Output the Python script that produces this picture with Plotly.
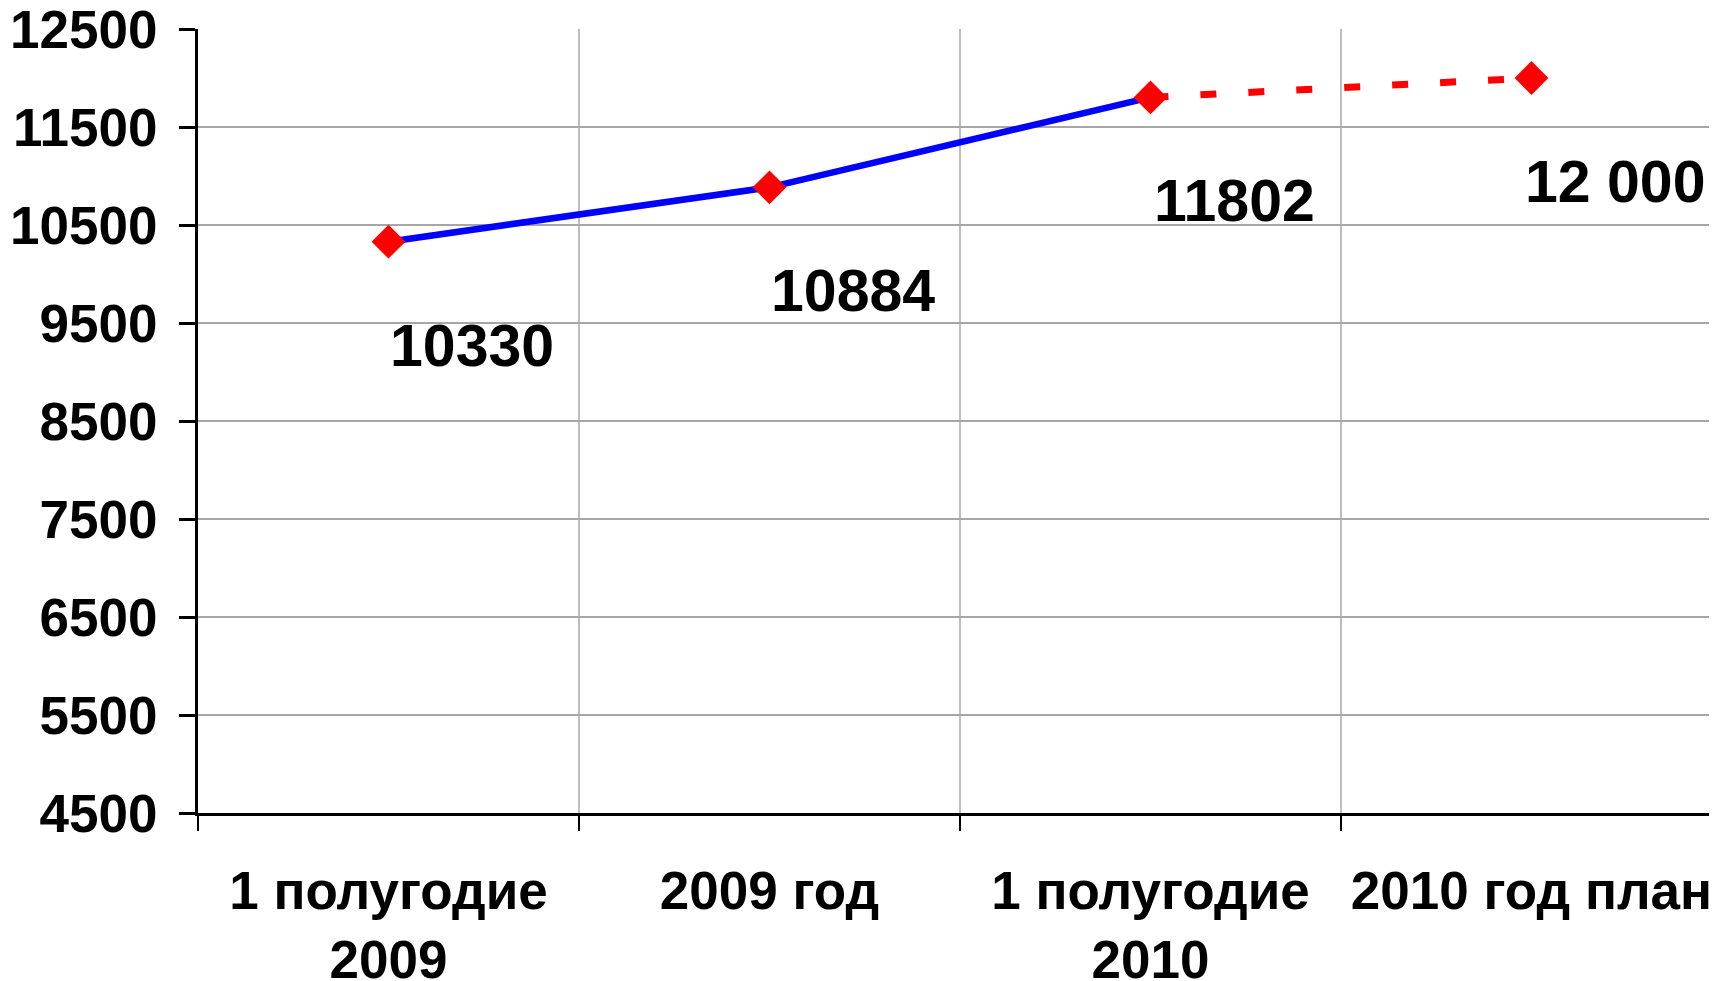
import plotly.graph_objects as go

categories = ["1 полугодие<br>2009", "2009 год", "1 полугодие<br>2010", "2010 год план"]
values = [10330, 10884, 11802, 12000]
value_labels = ["10330", "10884", "11802", "12 000"]
actual_count = 3  # first three points are actual, last is plan
y_ticks = [4500, 5500, 6500, 7500, 8500, 9500, 10500, 11500, 12500]

FONT = "Liberation Sans, Arial, sans-serif"

fig = go.Figure()

# actual (solid blue)
fig.add_trace(go.Scatter(
    x=categories[:actual_count], y=values[:actual_count],
    mode="lines", line=dict(color="#0000FF", width=6.5),
    showlegend=False, hoverinfo="skip"))

# plan (dashed red)
fig.add_trace(go.Scatter(
    x=categories[actual_count - 1:], y=values[actual_count - 1:],
    mode="lines", line=dict(color="#FF0000", width=7, dash="0px,2px,16px,30px"),
    showlegend=False, hoverinfo="skip"))

# markers
fig.add_trace(go.Scatter(
    x=categories, y=values, mode="markers",
    marker=dict(symbol="diamond", size=26, color="#FF0000", line=dict(width=0)),
    showlegend=False))

for c, v, t in zip(categories, values, value_labels):
    fig.add_annotation(
        x=c, y=v, text=t, showarrow=False, xref="x", yref="y",
        xshift=84, yshift=-104,
        font=dict(family=FONT, size=59, color="black", weight="bold"))

# page body has an 8px default margin; size the figure to fit the window
fig.update_layout(
    width=1709, height=973,
    margin=dict(l=190, r=0, t=21, b=168),
    plot_bgcolor="white", paper_bgcolor="white",
    font=dict(family=FONT, color="black"),
)

fig.update_xaxes(
    type="category", range=[-0.5, 3.487], automargin=False,
    tickson="boundaries", ticks="outside", ticklen=15, tickwidth=2, tickcolor="black",
    showgrid=True, gridcolor="#BEBEBE", gridwidth=2,
    showline=True, linecolor="black", linewidth=3,
    tickfont=dict(family=FONT, size=53, color="black", weight="bold"),
    ticklabelstandoff=29, ticklabeloverflow="allow",
)

fig.update_yaxes(
    range=[4500, 12500], tickvals=y_ticks, ticktext=[str(v) for v in y_ticks],
    automargin=False,
    ticks="outside", ticklen=16, tickwidth=3, tickcolor="black",
    showgrid=True, gridcolor="#A6A6A6", gridwidth=2,
    showline=True, linecolor="black", linewidth=3,
    zeroline=False,
    tickfont=dict(family=FONT, size=53, color="black", weight="bold"),
    ticklabelstandoff=11, ticklabeloverflow="allow",
)

fig.write_html("out.html")
